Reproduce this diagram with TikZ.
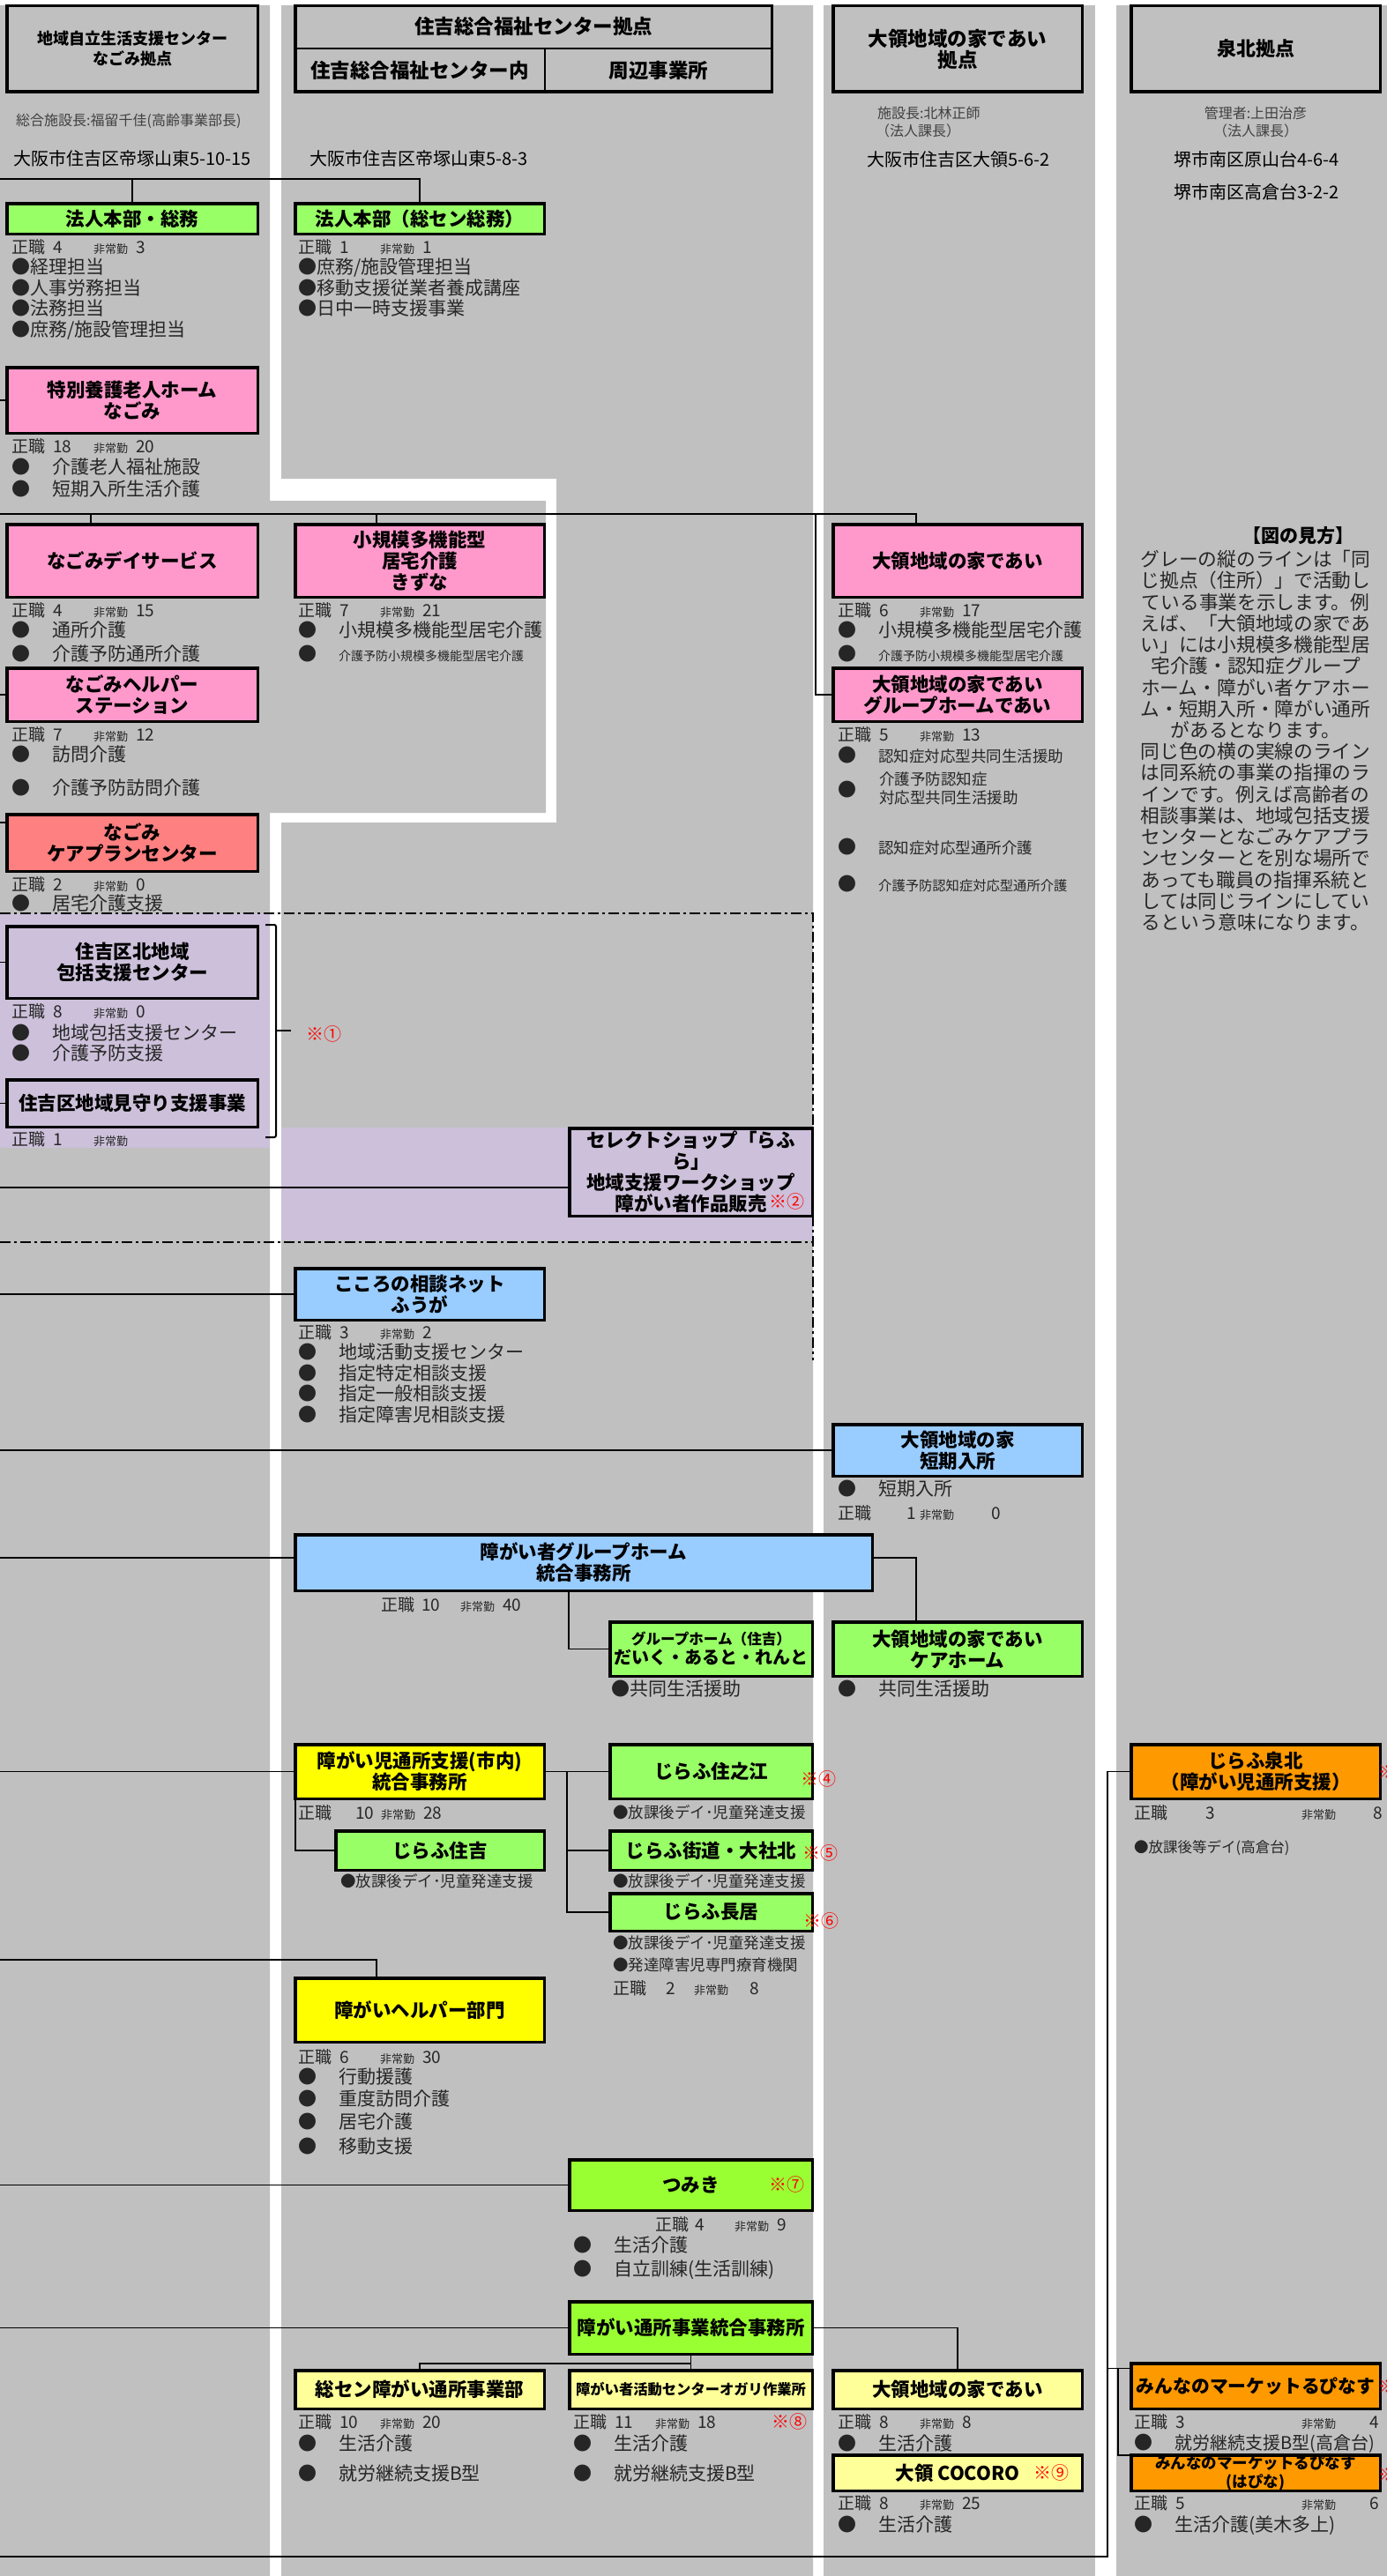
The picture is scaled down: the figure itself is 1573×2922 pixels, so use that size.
\documentclass[tikz,border=0pt]{standalone}
\usepackage{fontspec}
\setmainfont{Noto Sans CJK JP}

\definecolor{baseGray}{HTML}{C0C0C0}
\definecolor{unitPink}{HTML}{FF99CC}
\definecolor{unitSalmon}{HTML}{FF8080}
\definecolor{unitGreen}{HTML}{99FF66}
\definecolor{unitLime}{HTML}{99FF33}
\definecolor{unitBlue}{HTML}{99CCFF}
\definecolor{unitYellow}{HTML}{FFFF00}
\definecolor{unitCream}{HTML}{FFFF99}
\definecolor{unitOrange}{HTML}{FF9900}
\definecolor{zoneLav}{HTML}{CCC0DA}

% box from its outer corners (x1,y1)-(x2,y2)
\newcommand{\orgbox}[7]{\node[#2, minimum width={#5-#3-3.5}, minimum height={#6-#4-3.5}] (#1) at ({(#3+#5)/2},{(#4+#6)/2}) {#7};}
% staff line
\newcommand{\staffz}[5]{{\fontsize{19}{19}\selectfont\makebox[#1pt][l]{正職}\makebox[#2pt][l]{#3}}\makebox[#4pt][l]{\fontsize{13}{13}\selectfont 非常勤}{\fontsize{19}{19}\selectfont #5}}
\newcommand{\staff}[2]{\staffz{47}{46}{#1}{48}{#2}}
\newcommand{\bul}[1]{\makebox[46pt][l]{●}#1}

\tikzset{
  orgunit/.style={draw, line width=3.5pt, inner sep=0pt, outer sep=0pt, align=center,
    font=\bfseries\fontsize{21.5}{24}\selectfont},
  hdrbox/.style={orgunit, fill=baseGray},
  pinkunit/.style={orgunit, fill=unitPink},
  salmonunit/.style={orgunit, fill=unitSalmon},
  greenunit/.style={orgunit, fill=unitGreen},
  limeunit/.style={orgunit, fill=unitLime},
  blueunit/.style={orgunit, fill=unitBlue},
  yellowunit/.style={orgunit, fill=unitYellow},
  creamunit/.style={orgunit, fill=unitCream},
  orangeunit/.style={orgunit, fill=unitOrange},
  lavunit/.style={orgunit, fill=zoneLav},
  link/.style={line width=1.6pt},
  info/.style={anchor=north west, align=left, inner sep=0pt, text=black!85,
    font=\fontsize{21}{23.5}\selectfont},
  note/.style={inner sep=0pt, text=red, font=\fontsize{20}{20}\selectfont},
  dashframe/.style={line width=1.6pt, dash pattern=on 12pt off 4pt on 3pt off 4pt},
  addr/.style={inner sep=0pt, font=\fontsize{20}{20}\selectfont},
  mgr/.style={inner sep=0pt, text=black!75, font=\fontsize{16}{16}\selectfont},
}

\begin{document}
\begin{tikzpicture}[x=1pt,y=-1pt]
\useasboundingbox (0,0) rectangle (1573,2922);
\fill[white] (0,0) rectangle (1573,2922);

% grey columns (one per base)
\fill[baseGray] (0,6) -- (306,6) -- (306,568) -- (619,568) -- (619,922) -- (306,922) -- (306,2922) -- (0,2922) -- cycle;
\fill[baseGray] (319,6) -- (922,6) -- (922,2922) -- (319,2922) -- (319,933) -- (631,933) -- (631,543) -- (319,543) -- cycle;
\fill[baseGray] (934,6) rectangle (1242,2922);
\fill[baseGray] (1266,6) rectangle (1573,2922);

% consultation zone
\fill[zoneLav] (0,1036) rectangle (306,1302);
\fill[zoneLav] (319,1279) rectangle (922,1407);
\draw[dashframe] (0,1036) -- (922,1036) -- (922,1543);
\draw[dashframe] (0,1409) -- (922,1409);

% headers
\orgbox{hdr1}{hdrbox, font=\bfseries\fontsize{18}{23}\selectfont}{6}{5}{294}{106}{地域自立生活支援センター\\なごみ拠点}
\orgbox{hdr2}{hdrbox}{333}{5}{877}{106}{}
\coordinate (hdr2mid) at (618,55);
\draw[line width=2pt] (hdr2.west |- hdr2mid) -- (hdr2.east |- hdr2mid);
\draw[line width=2pt] (hdr2mid) -- (hdr2mid |- hdr2.south);
\node[inner sep=0pt, font=\bfseries\fontsize{22.5}{24}\selectfont] (hdr2-title) at (605,30) {住吉総合福祉センター拠点};
\node[inner sep=0pt, font=\bfseries\fontsize{22.5}{24}\selectfont] (hdr2-in) at (476,80) {住吉総合福祉センター内};
\node[inner sep=0pt, font=\bfseries\fontsize{22.5}{24}\selectfont] (hdr2-out) at (747,80) {周辺事業所};
\orgbox{hdr3}{hdrbox, font=\bfseries\fontsize{22.5}{24}\selectfont}{943}{5}{1229}{106}{大領地域の家であい\\拠点}
\orgbox{hdr4}{hdrbox, font=\bfseries\fontsize{22}{24}\selectfont}{1281}{5}{1567}{106}{泉北拠点}

\node[mgr, anchor=west] (mgr1) at (18,137) {総合施設長:福留千佳(高齢事業部長)};
\node[mgr, anchor=west] (mgr3) at (995,128) {施設長:北林正師};
\node[mgr, anchor=west] (mgr3b) at (993,148) {（法人課長）};
\node[mgr] (mgr4) at (1424,128) {管理者:上田治彦};
\node[mgr] (mgr4b) at (1424,148) {（法人課長）};
\node[addr, anchor=west] (addr1) at (15,180) {大阪市住吉区帝塚山東5-10-15};
\node[addr, anchor=west] (addr2) at (351,180) {大阪市住吉区帝塚山東5-8-3};
\node[addr] (addr3) at (1087,181) {大阪市住吉区大領5-6-2};
\node[addr] (addr4) at (1425,181) {堺市南区原山台4-6-4};
\node[addr] (addr4b) at (1425,218) {堺市南区高倉台3-2-2};

% units
\orgbox{hq1}{greenunit}{6}{229}{294}{267}{法人本部・総務}
\orgbox{hq2}{greenunit}{333}{229}{619}{267}{法人本部（総セン総務）}
\orgbox{toku}{pinkunit}{6}{415}{294}{493}{特別養護老人ホーム\\なごみ}
\orgbox{day}{pinkunit}{6}{593}{294}{679}{なごみデイサービス}
\orgbox{kizuna}{pinkunit}{333}{593}{619}{679}{小規模多機能型\\居宅介護\\きずな}
\orgbox{daiai}{pinkunit}{943}{593}{1229}{679}{大領地域の家であい}
\orgbox{helper}{pinkunit}{6}{756}{294}{820}{なごみヘルパー\\ステーション}
\orgbox{gh}{pinkunit}{943}{756}{1229}{820}{大領地域の家であい\\グループホームであい}
\orgbox{careplan}{salmonunit}{6}{922}{294}{990}{なごみ\\ケアプランセンター}
\orgbox{hokatsu}{lavunit}{6}{1049}{294}{1134}{住吉区北地域\\包括支援センター}
\orgbox{mimamori}{lavunit}{6}{1223}{294}{1280}{住吉区地域見守り支援事業}
\orgbox{rafura}{lavunit}{644}{1278}{923}{1381}{セレクトショップ「らふ\\ら」\\地域支援ワークショップ\\障がい者作品販売}
\orgbox{fuga}{blueunit}{333}{1437}{619}{1499}{こころの相談ネット\\ふうが}
\orgbox{tanki}{blueunit}{943}{1614}{1229}{1676}{大領地域の家\\短期入所}
\orgbox{ghjim}{blueunit}{333}{1739}{991}{1806}{障がい者グループホーム\\統合事務所}
\orgbox{ghsumi}{greenunit, font=\bfseries\fontsize{20}{22}\selectfont}{690}{1838}{923}{1903}{{\fontsize{16.6}{20}\selectfont グループホーム（住吉）}\\だいく・あると・れんと}
\orgbox{carehome}{greenunit}{943}{1838}{1229}{1903}{大領地域の家であい\\ケアホーム}
\orgbox{jidou}{yellowunit}{333}{1977}{619}{2042}{障がい児通所支援(市内)\\統合事務所}
\orgbox{jsumiyoshi}{greenunit}{379}{2075}{619}{2123}{じらふ住吉}
\orgbox{suminoe}{greenunit}{690}{1977}{923}{2042}{じらふ住之江}
\orgbox{kaido}{greenunit}{690}{2075}{923}{2123}{じらふ街道・大社北}
\orgbox{nagai}{greenunit}{690}{2146}{923}{2192}{じらふ長居}
\orgbox{jsenboku}{orangeunit}{1281}{1977}{1567}{2042}{じらふ泉北\\（障がい児通所支援）}
\orgbox{hhelper}{yellowunit}{333}{2242}{619}{2318}{障がいヘルパー部門}
\orgbox{tsumiki}{limeunit}{644}{2448}{923}{2509}{つみき}
\orgbox{tsusho}{limeunit}{644}{2609}{923}{2672}{障がい通所事業統合事務所}
\orgbox{sosen}{creamunit}{333}{2687}{619}{2734}{総セン障がい通所事業部}
\orgbox{ogari}{creamunit, font=\bfseries\fontsize{16.3}{18}\selectfont}{644}{2687}{923}{2734}{障がい者活動センターオガリ作業所}
\orgbox{daiyel}{creamunit}{943}{2687}{1229}{2734}{大領地域の家であい}
\orgbox{cocoro}{creamunit}{943}{2783}{1229}{2827}{大領 COCORO}
\orgbox{rupinasu}{orangeunit, font=\bfseries\fontsize{20.8}{22}\selectfont}{1281}{2679}{1567}{2734}{みんなのマーケットるぴなす}
\orgbox{hapina}{orangeunit, font=\bfseries\fontsize{17.5}{21}\selectfont}{1281}{2783}{1567}{2827}{みんなのマーケットるぴなす\\(はぴな)}

% red marks
\draw[line width=2pt, rounded corners=2pt] (301,1049) -- (313,1049) -- (313,1290) -- (301,1290);
\draw[line width=2pt] (313,1169) -- (330,1169);
\node[note] (mark1) at (367,1173) {※①};
\node[note] (mark2) at (892,1363) {※②};
\node[note] (mark4) at (928,2018) {※④};
\node[note] (mark5) at (930,2102) {※⑤};
\node[note] (mark6) at (931,2179) {※⑥};
\node[note] (mark7) at (892,2478) {※⑦};
\node[note] (mark8) at (895,2747) {※⑧};
\node[note] (mark9) at (1192,2805) {※⑨};
\node[note, anchor=west] (mark-sen) at (1563,2010) {※};
\node[note, anchor=west] (mark-rup) at (1563,2707) {※};
\node[note, anchor=west] (mark-hap) at (1563,2807) {※};

% staff and services
\node[info] (hq1-info) at (13,271) {\staff{4}{3}\\●経理担当\\●人事労務担当\\●法務担当\\●庶務/施設管理担当};
\node[info] (hq2-info) at (338,271) {\staff{1}{1}\\●庶務/施設管理担当\\●移動支援従業者養成講座\\●日中一時支援事業};
\node[info] (toku-info) at (13,497) {\staff{18}{20}\\[0.7pt]\bul{介護老人福祉施設}\\[1.7pt]\bul{短期入所生活介護}};
\node[info] (day-info) at (13,683) {\staff{4}{15}\\\bul{通所介護}\\[3.7pt]\bul{介護予防通所介護}};
\node[info] (kizuna-info) at (338,683) {\staff{7}{21}\\\bul{小規模多機能型居宅介護}\\[3.7pt]\bul{\fontsize{14}{14}\selectfont 介護予防小規模多機能型居宅介護}};
\node[info] (daiai-info) at (950,683) {\staff{6}{17}\\\bul{小規模多機能型居宅介護}\\[3.7pt]\bul{\fontsize{14}{14}\selectfont 介護予防小規模多機能型居宅介護}};
\node[info] (helper-info) at (13,824) {\staff{7}{12}\\\bul{訪問介護}\\[14.7pt]\bul{介護予防訪問介護}};
\node[info] (gh-info) at (950,824) {\staff{5}{13}\\[1.3pt]\bul{\fontsize{17.5}{17.5}\selectfont 認知症対応型共同生活援助}};
\node[info] (gh-dot) at (950,886) {●};
\node[info, anchor=west, font=\fontsize{17.5}{21}\selectfont] (gh-item) at (997,894.5) {介護予防認知症\\対応型共同生活援助};
\node[info] (gh-info2) at (950,951) {\bul{\fontsize{17.5}{17.5}\selectfont 認知症対応型通所介護}\\[18.7pt]\bul{\fontsize{15.3}{15.3}\selectfont 介護予防認知症対応型通所介護}};
\node[info] (careplan-info) at (13,994) {\staff{2}{0}\\[-1.3pt]\bul{居宅介護支援}};
\node[info] (hokatsu-info) at (13,1138) {\staff{8}{0}\\[1.7pt]\bul{地域包括支援センター}\\\bul{介護予防支援}};
\node[info] (mimamori-info) at (13,1283) {\staff{1}{}};
\node[info] (fuga-info) at (338,1502) {\staff{3}{2}\\\bul{地域活動支援センター}\\\bul{指定特定相談支援}\\\bul{指定一般相談支援}\\\bul{指定障害児相談支援}};
\node[info] (tanki-info) at (950,1679) {\bul{短期入所}\\[3.7pt]\staffz{78}{15}{1}{81}{0}};
\node[info] (ghjim-info) at (432,1811) {\staffz{46}{44}{10}{48}{40}};
\node[info] (ghsumi-info) at (693,1906) {●共同生活援助};
\node[info] (carehome-info) at (950,1906) {\bul{共同生活援助}};
\node[info] (jidou-info) at (338,2047) {\staffz{65}{29}{10}{48}{28}};
\node[info, font=\fontsize{17.5}{25}\selectfont] (jsumiyoshi-info) at (386,2125) {●放課後デイ･児童発達支援};
\node[info, font=\fontsize{17.5}{25}\selectfont] (suminoe-info) at (695,2047) {●放課後デイ･児童発達支援};
\node[info, font=\fontsize{17.5}{25}\selectfont] (kaido-info) at (695,2125) {●放課後デイ･児童発達支援};
\node[info, font=\fontsize{17.5}{25}\selectfont] (nagai-info) at (695,2195) {●放課後デイ･児童発達支援\\●発達障害児専門療育機関\\[2.3pt]\staffz{60}{32}{2}{63}{8}};
\node[info] (hhelper-info) at (338,2324) {\staff{6}{30}\\\bul{行動援護}\\[1.7pt]\bul{重度訪問介護}\\[1.7pt]\bul{居宅介護}\\[4.7pt]\bul{移動支援}};
\node[info] (tsumiki-staff) at (743,2514) {\staffz{45}{45}{4}{48}{9}};
\node[info] (tsumiki-info) at (650,2537) {\bul{生活介護}\\[2.7pt]\bul{自立訓練(生活訓練)}};
\node[info] (sosen-info) at (338,2738) {\staff{10}{20}\\[1.7pt]\bul{生活介護}\\[10.7pt]\bul{就労継続支援B型}};
\node[info] (ogari-info) at (650,2738) {\staff{11}{18}\\[1.7pt]\bul{生活介護}\\[10.7pt]\bul{就労継続支援B型}};
\node[info] (daiyel-info) at (950,2738) {\staff{8}{8}\\[1.7pt]\bul{生活介護}};
\node[info] (cocoro-info) at (950,2830) {\staff{8}{25}\\[1.7pt]\bul{生活介護}};
\node[info] (jsenboku-info) at (1286,2047) {\staffz{81}{109}{3}{81}{8}};
\node[info, font=\fontsize{16.5}{20}\selectfont] (jsenboku-item) at (1286,2087) {●放課後等デイ(高倉台)};
\node[info] (rupinasu-info) at (1286,2738) {\staffz{47}{143}{3}{77}{4}\\[0.7pt]\bul{\fontsize{20}{20}\selectfont 就労継続支援B型(高倉台)}};
\node[info] (hapina-info) at (1286,2830) {\staffz{47}{143}{5}{77}{6}\\[1.7pt]\bul{生活介護(美木多上)}};

% legend
\node[inner sep=0pt, font=\bfseries\fontsize{21}{21}\selectfont] (legend-title) at (1472,608) {【図の見方】};
\node[anchor=north, inner sep=0pt, align=center, text=black!85, font=\fontsize{21.7}{24.24}\selectfont] (legend) at (1424,624)
 {グレーの縦のラインは「同\\じ拠点（住所）」で活動し\\ている事業を示します。例\\えば、「大領地域の家であ\\い」には小規模多機能型居\\宅介護・認知症グループ\\ホーム・障がい者ケアホー\\ム・短期入所・障がい通所\\があるとなります。\\同じ色の横の実線のライン\\は同系統の事業の指揮のラ\\インです。例えば高齢者の\\相談事業は、地域包括支援\\センターとなごみケアプラ\\ンセンターとを別な場所で\\あっても職員の指揮系統と\\しては同じラインにしてい\\るという意味になります。};

% lines of command
\coordinate (in-hq) at (0,203);
\coordinate (in-toku) at (0,454);
\coordinate (in-care) at (0,583);
\coordinate (in-helper) at (0,788);
\coordinate (in-plan) at (0,933);
\coordinate (in-hokatsu) at (0,1091.5);
\coordinate (in-mimamori) at (0,1251.5);
\coordinate (in-rafura) at (0,1347);
\coordinate (in-fuga) at (0,1468);
\coordinate (in-tanki) at (0,1645);
\coordinate (in-ghjim) at (0,1767);
\coordinate (in-jidou) at (0,2009.5);
\coordinate (in-hhelper) at (0,2223);
\coordinate (in-tsumiki) at (0,2478.5);
\coordinate (in-tsusho) at (0,2640.5);
\coordinate (in-senboku) at (0,2900);

\draw[link] (in-hq) -| (hq2.north);
\draw[link] (hq1.north) -- (hq1.north |- in-hq);
\draw[link] (in-toku) -- (toku.west);
\draw[link] (in-care) -| ([xshift=-47pt]daiai.north);
\draw[link] ([xshift=-47pt]day.north) -- ([xshift=-47pt]day.north |- in-care);
\draw[link] ([xshift=-49pt]kizuna.north) -- ([xshift=-49pt]kizuna.north |- in-care);
\draw[link] (gh.west) -- ([xshift=-20pt]gh.west) -- ([xshift=-20pt]gh.west |- in-care);
\draw[link] (in-helper) -- (helper.west);
\draw[link] (in-plan) -- (in-plan -| careplan.west);
\draw[link] (in-hokatsu) -- (hokatsu.west);
\draw[link] (in-mimamori) -- (mimamori.west);
\draw[link] (in-rafura) -- (in-rafura -| rafura.west);
\draw[link] (in-fuga) -- (fuga.west);
\draw[link] (in-tanki) -- (tanki.west);
\draw[link] (in-ghjim) -- (in-ghjim -| ghjim.west);
\draw[link] (in-ghjim -| ghjim.east) -| ([xshift=-47pt]carehome.north);
\draw[link] (ghsumi.west) -| ([xshift=-17pt]ghjim.south);
\draw[link] (in-jidou) -- (jidou.west);
\draw[link] (jidou.east) -- (suminoe.west);
\coordinate (jbranch) at ([xshift=26pt]jidou.east);
\draw[link] (jbranch) |- (kaido.west);
\draw[link] (jbranch) |- (nagai.west);
\draw[link] (jsumiyoshi.west) -| (jidou.south west);
\draw[link] (in-hhelper) -| ([xshift=-49pt]hhelper.north);
\draw[link] (in-tsumiki) -- (tsumiki.west);
\draw[link] (in-tsusho) -- (tsusho.west);
\draw[link] (tsusho.east) -| (daiyel.north);
\draw[link] (tsusho.south) -- (ogari.north);
\draw[link] ([yshift=8pt]ogari.north) -| (sosen.north);
\draw[link] (in-senboku) -| ([xshift=-27pt]jsenboku.west) -- (jsenboku.west);
\draw[link] ([yshift=20pt]rupinasu.west) -- ++(-27,0);
\draw[link] ([yshift=20pt]rupinasu.west) ++(-15,0) |- (hapina.north west);
\end{tikzpicture}
\end{document}
